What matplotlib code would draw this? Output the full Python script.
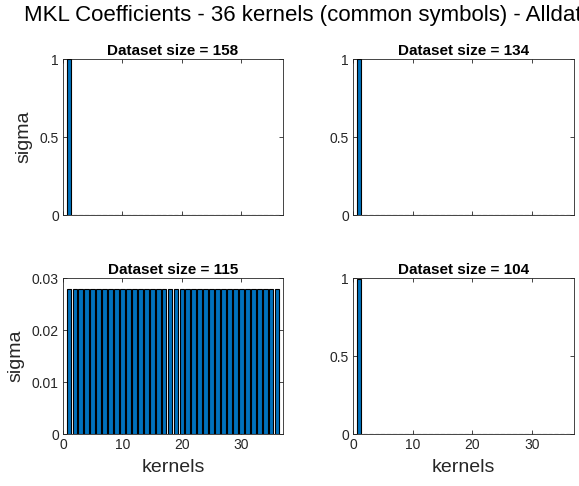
import matplotlib.pyplot as plt
import numpy as np

plt.rcParams['font.family'] = ['Liberation Sans', 'DejaVu Sans']

kernels = list(range(1, 37))
sizes = [158, 134, 115, 104]

# learned kernel weights per dataset size
sigma_158 = [1.0] + [0.0] * 35
sigma_134 = [1.0] + [0.0] * 35
sigma_115 = [0.0278, 0.0278, 0.0278, 0.0278, 0.0278, 0.0278, 0.0278, 0.0278, 0.0278,
             0.0278, 0.0278, 0.0278, 0.0278, 0.0278, 0.0278, 0.0278, 0.0278, 0.0278,
             0.0278, 0.0278, 0.0278, 0.0278, 0.0278, 0.0278, 0.0278, 0.0278, 0.0278,
             0.0278, 0.0278, 0.0278, 0.0278, 0.0278, 0.0278, 0.0278, 0.0278, 0.0278]
sigma_104 = [0.995] + [0.002] * 35
sigmas = [sigma_158, sigma_134, sigma_115, sigma_104]

yticks = [[0, 0.5, 1], [0, 0.5, 1], [0, 0.01, 0.02, 0.03], [0, 0.5, 1]]
yticklabels = [['0', '0.5', '1'], ['0', '0.5', '1'],
               ['0', '0.01', '0.02', '0.03'], ['0', '0.5', '1']]
ylims = [1, 1, 0.03, 1]

W, H = 579, 486
fig = plt.figure(figsize=(W / 100, H / 100), dpi=100)

# axes boxes in pixels: left, top, right, bottom
boxes = [(63, 59, 283, 215), (353, 59, 574, 215),
         (63, 278, 283, 434), (353, 278, 574, 434)]

axc = '#262626'
for i, (l, t, r, b) in enumerate(boxes):
    ax = fig.add_axes([l / W, 1 - b / H, (r - l) / W, (b - t) / H])
    ax.bar(kernels, sigmas[i], width=0.8, color='#0072BD', edgecolor='black',
           linewidth=0.8, zorder=3)
    ax.set_xlim(0, 37)
    ax.set_ylim(0, ylims[i])
    ax.set_xticks([0, 10, 20, 30])
    ax.set_yticks(yticks[i])
    ax.set_yticklabels(yticklabels[i])
    ax.tick_params(direction='in', top=True, right=True, length=3, width=0.6,
                   labelsize=10, colors=axc, pad=3)
    for s in ax.spines.values():
        s.set_color(axc)
        s.set_linewidth(0.6)
    if i < 2:
        ax.set_xticklabels([])
    else:
        ax.set_xlabel('kernels', fontsize=14, color=axc, labelpad=5)
    if i % 2 == 0:
        ax.set_ylabel('sigma', fontsize=14, color=axc, labelpad=5)
    ax.set_title('Dataset size = %d' % sizes[i], fontsize=11, fontweight='bold',
                 pad=3)

# the overall title is wider than the figure and runs off the right edge
fig.text(24 / W, 1 - 20.5 / H,
         'MKL Coefficients - 36 kernels (common symbols) - Alldata',
         fontsize=16.0, ha='left', va='baseline', color='black')

fig.savefig('out.png', dpi=100)
